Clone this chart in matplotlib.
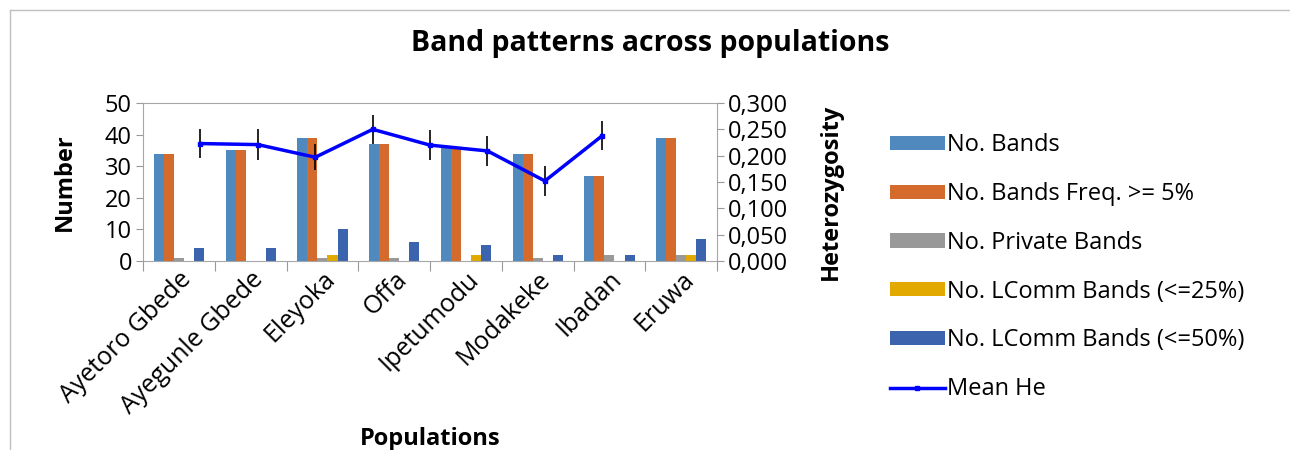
import numpy as np
import matplotlib.pyplot as plt
from matplotlib.lines import Line2D

plt.rcParams['font.family'] = ['Open Sans', 'DejaVu Sans']

populations = ["Ayetoro Gbede", "Ayegunle Gbede", "Eleyoka", "Offa",
               "Ipetumodu", "Modakeke", "Ibadan", "Eruwa"]
no_bands = [34, 35, 39, 37, 36, 34, 27, 39]
bands_freq5 = [34, 35, 39, 37, 36, 34, 27, 39]
private_bands = [1, 0, 1, 1, 0, 1, 2, 2]
lcomm_25 = [0, 0, 2, 0, 2, 0, 0, 2]
lcomm_50 = [4, 4, 10, 6, 5, 2, 2, 7]
mean_he = [0.223, 0.221, 0.197, 0.250, 0.220, 0.209, 0.152, 0.238]
he_err = [0.028, 0.029, 0.025, 0.028, 0.028, 0.029, 0.028, 0.027]

series = [
    ("No. Bands", no_bands, "#4F89BD"),
    ("No. Bands Freq. >= 5%", bands_freq5, "#D46B2C"),
    ("No. Private Bands", private_bands, "#999999"),
    ("No. LComm Bands (<=25%)", lcomm_25, "#E2AA00"),
    ("No. LComm Bands (<=50%)", lcomm_50, "#3C64AE"),
]

fs = 17

fig = plt.figure(figsize=(12.9, 4.5), dpi=100)
ax = fig.add_axes([0.1109, 0.42, 0.4450, 0.3511])

x = np.arange(len(populations))
bw = 0.14
handles = []
for i, (name, vals, col) in enumerate(series):
    b = ax.bar(x + (i - 2) * bw, vals, bw, color=col, label=name)
    handles.append(b)

ax.set_xlim(-0.5, len(populations) - 0.5)
ax.set_ylim(0, 50)
ax.set_yticks(range(0, 51, 10))
ax.set_xticks(np.arange(-0.5, len(populations), 1), minor=False)
ax.set_xticklabels([])
ax.set_xticks(x, minor=True)
ax.set_xticklabels(populations, minor=True, rotation=45, ha='right',
                   rotation_mode='anchor', fontsize=18)
ax.tick_params(axis='x', which='minor', length=0, pad=4)
ax.tick_params(axis='x', which='major', length=7, color='#999999')
ax.tick_params(axis='y', labelsize=fs, length=5, color='#999999', pad=3)
for s in ax.spines.values():
    s.set_color('#A6A6A6')
ax.set_ylabel("Number", fontsize=fs, fontweight='bold', labelpad=20)
ax.set_xlabel("Populations", fontsize=fs, fontweight='bold', labelpad=6)

# secondary axes for heterozygosity
ax2 = fig.add_axes(ax.get_position(), frameon=False)
ax2.set_xlim(0, 10)
ax2.set_ylim(0, 0.3)
ax2.set_xticks([])
ax2.yaxis.tick_right()
ax2.yaxis.set_label_position('right')
ax2.set_yticks(np.arange(0, 0.301, 0.05))
ax2.set_yticklabels([f"{v:.3f}".replace('.', ',') for v in np.arange(0, 0.301, 0.05)])
ax2.tick_params(axis='y', labelsize=fs, length=5, color='#999999', pad=3)
xl = np.arange(1, len(mean_he) + 1)
ax2.errorbar(xl, mean_he, yerr=he_err, fmt='none', ecolor='black', elinewidth=1.2)
ln, = ax2.plot(xl, mean_he, color='#0000FF', lw=2.5, marker='s', ms=3, label="Mean He")
ax2.set_ylabel("Heterozygosity", fontsize=fs, fontweight='bold')
ax2.yaxis.set_label_coords(1.178, 0.44)

fig.suptitle("Band patterns across populations", x=0.504, y=0.935,
             fontsize=20.5, fontweight='bold')

fig.legend(handles + [ln], [s[0] for s in series] + ["Mean He"],
           loc='upper left', bbox_to_anchor=(0.681, 0.73), frameon=False,
           fontsize=fs, handlelength=2.3, handleheight=0.55,
           labelspacing=1.05, handletextpad=0.1, borderpad=0)

# outer chart border
fig.add_artist(Line2D([10 / 1290, 10 / 1290], [0, 1 - 10 / 450], color='#BFBFBF', lw=1))
fig.add_artist(Line2D([10 / 1290, 1], [1 - 10 / 450, 1 - 10 / 450], color='#BFBFBF', lw=1))

fig.savefig("out.png", dpi=100)
